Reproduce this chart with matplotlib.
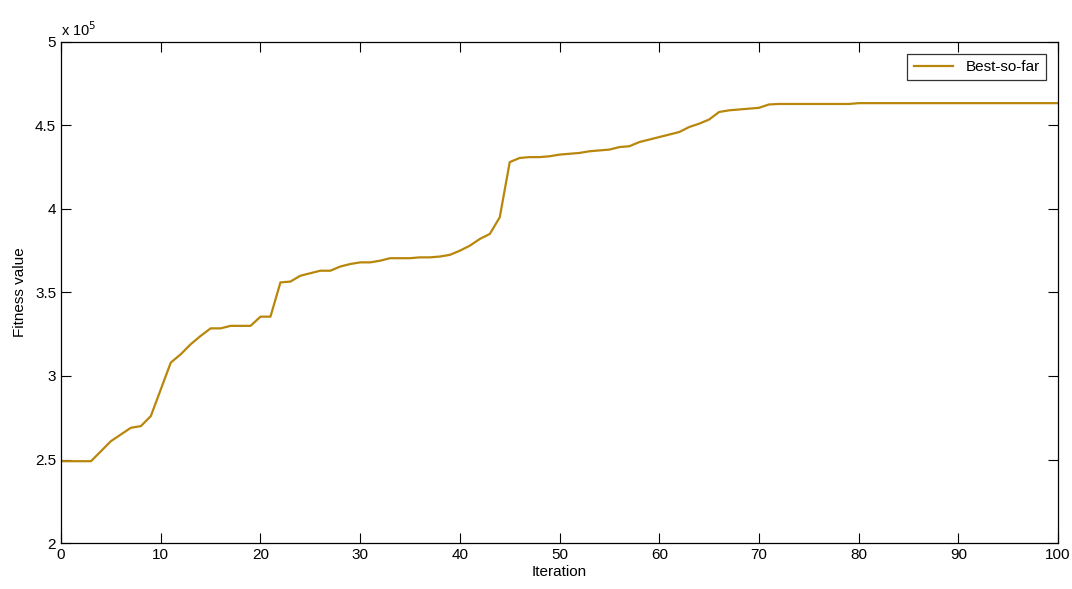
import numpy as np
import matplotlib
matplotlib.use('Agg')
import matplotlib.pyplot as plt
from matplotlib.ticker import FuncFormatter

plt.rcParams['font.family'] = ['Liberation Sans Narrow', 'Liberation Sans', 'DejaVu Sans']

# best-so-far fitness, in units of 1e5, one value per iteration 0..100
iteration = np.arange(0, 101)
fitness_e5 = [2.49, 2.49, 2.49, 2.49, 2.55, 2.61, 2.65, 2.69, 2.70, 2.76,
              2.92, 3.08, 3.13, 3.19, 3.24, 3.285, 3.285, 3.30, 3.30, 3.30,
              3.355, 3.355, 3.56, 3.565, 3.60, 3.615, 3.63, 3.63, 3.655, 3.67,
              3.68, 3.68, 3.69, 3.705, 3.705, 3.705, 3.71, 3.71, 3.715, 3.725,
              3.75, 3.78, 3.82, 3.85, 3.95, 4.28, 4.305, 4.31, 4.31, 4.315,
              4.325, 4.33, 4.335, 4.345, 4.35, 4.355, 4.37, 4.375, 4.40, 4.415,
              4.43, 4.445, 4.46, 4.49, 4.51, 4.535, 4.58, 4.59, 4.595, 4.60,
              4.605, 4.625, 4.628, 4.628, 4.628, 4.628, 4.628, 4.628, 4.628, 4.628,
              4.633, 4.633, 4.633, 4.633, 4.633, 4.633, 4.633, 4.633, 4.633, 4.633,
              4.633, 4.633, 4.633, 4.633, 4.633, 4.633, 4.633, 4.633, 4.633, 4.633,
              4.633]
fitness = np.array(fitness_e5) * 1e5

fig = plt.figure(figsize=(10.72, 5.89), dpi=100)
ax = fig.add_axes([0.057, 0.078, 0.93, 0.851])

ax.plot(iteration, fitness, color='#B8860B', lw=1.6, label='Best-so-far')

ax.set_xlim(0, 100)
ax.set_ylim(2e5, 5e5)
ax.set_xticks(np.arange(0, 101, 10))
ax.set_yticks(np.arange(2e5, 5.01e5, 0.5e5))
ax.yaxis.set_major_formatter(FuncFormatter(lambda v, p: '%g' % (v / 1e5)))
ax.tick_params(direction='in', top=True, right=True, length=7, labelsize=11)
for s in ax.spines.values():
    s.set_linewidth(0.9)

ax.text(0.0, 1.005, r'x 10$^5$', transform=ax.transAxes, fontsize=10.5, va='bottom')
ax.set_xlabel('Iteration', fontsize=11, labelpad=2)
ax.set_ylabel('Fitness value', fontsize=11, labelpad=6)

leg = ax.legend(loc='upper right', fancybox=False, edgecolor='black', fontsize=11,
                handlelength=2.6, borderaxespad=0.8)
leg.get_frame().set_linewidth(0.9)

fig.savefig('out.png', dpi=100)
